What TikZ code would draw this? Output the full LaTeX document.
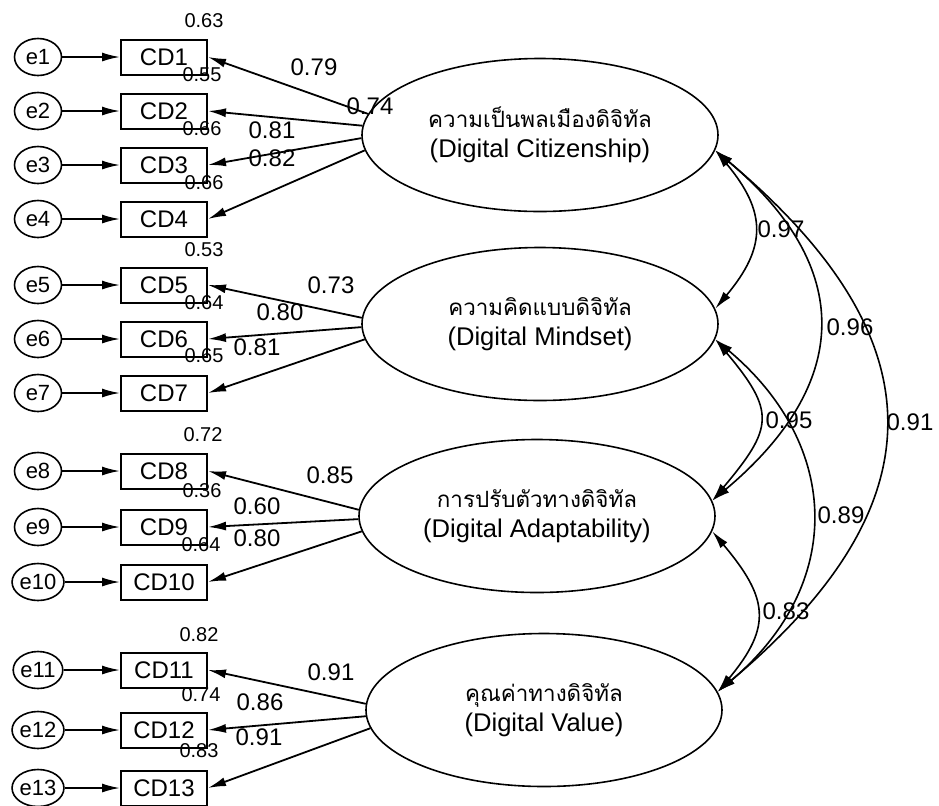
\documentclass[tikz,border=0pt]{standalone}
\usepackage{fontspec}
\setmainfont{Liberation Sans}
\newfontfamily\thaifont[Script=Thai]{Loma}
\usetikzlibrary{shapes,arrows.meta,positioning}
\tikzstyle{obs}=[draw,rectangle,line width=1pt,minimum width=43pt,
  minimum height=17.5pt,inner sep=0pt,font=\fontsize{12}{14}\selectfont]
\tikzstyle{err}=[draw,ellipse,line width=.8pt,minimum width=23.5pt,
  minimum height=18.5pt,inner sep=0pt,font=\fontsize{11}{13}\selectfont]
\tikzstyle{lat}=[draw,ellipse,line width=.8pt,minimum width=178pt,
  minimum height=76.5pt,inner sep=0pt,align=center,
  font=\fontsize{12.8}{15}\selectfont]
\tikzstyle{load}=[inner sep=0pt,font=\fontsize{12}{14}\selectfont]
\tikzstyle{rsq}=[inner sep=0pt,font=\fontsize{10}{12}\selectfont]
\tikzstyle{corr}=[<->,line width=.8pt]
\newcommand{\thainame}[1]{{\thaifont\fontsize{11.2}{15}\selectfont #1}}

\begin{document}
\begin{tikzpicture}[x=.5pt, y=-.5pt, >={Latex[length=9pt,width=4.5pt]},
    node distance=27pt, on grid, line width=.9pt]
  \useasboundingbox (0,0) rectangle (939,805);

  % factors
  \node[lat] (f1) at (540,135) {\thainame{ความเป็นพลเมืองดิจิทัล}\\(Digital Citizenship)};
  \node[lat] (f2) at (540,324) {\thainame{ความคิดแบบดิจิทัล}\\(Digital Mindset)};
  \node[lat] (f3) at (537,516) {\thainame{การปรับตัวทางดิจิทัล}\\(Digital Adaptability)};
  \node[lat] (f4) at (544,710) {\thainame{คุณค่าทางดิจิทัล}\\(Digital Value)};

  % indicators
  \node[obs] (cd1) at (164,57) {CD1};
  \node[obs, below=of cd1] (cd2) {CD2};
  \node[obs, below=of cd2] (cd3) {CD3};
  \node[obs, below=of cd3] (cd4) {CD4};
  \node[obs, below=33pt of cd4] (cd5) {CD5};
  \node[obs, below=of cd5] (cd6) {CD6};
  \node[obs, below=of cd6] (cd7) {CD7};
  \node[obs, below=39pt of cd7] (cd8) {CD8};
  \node[obs, below=28pt of cd8] (cd9) {CD9};
  \node[obs, below=27.5pt of cd9] (cd10) {CD10};
  \node[obs, below=44pt of cd10] (cd11) {CD11};
  \node[obs, below=30pt of cd11] (cd12) {CD12};
  \node[obs, below=29pt of cd12] (cd13) {CD13};

  % errors
  \node[err, left=63pt of cd1] (e1) {e1};
  \node[err, left=63pt of cd2] (e2) {e2};
  \node[err, left=63pt of cd3] (e3) {e3};
  \node[err, left=63pt of cd4] (e4) {e4};
  \node[err, left=63pt of cd5] (e5) {e5};
  \node[err, left=63pt of cd6] (e6) {e6};
  \node[err, left=63pt of cd7] (e7) {e7};
  \node[err, left=63pt of cd8] (e8) {e8};
  \node[err, left=63pt of cd9] (e9) {e9};
  \node[err, left=63pt of cd10] (e10) {e10};
  \node[err, left=63pt of cd11] (e11) {e11};
  \node[err, left=63pt of cd12] (e12) {e12};
  \node[err, left=63pt of cd13] (e13) {e13};

  \draw[->] (e1) -- (cd1);
  \draw[->] (e2) -- (cd2);
  \draw[->] (e3) -- (cd3);
  \draw[->] (e4) -- (cd4);
  \draw[->] (e5) -- (cd5);
  \draw[->] (e6) -- (cd6);
  \draw[->] (e7) -- (cd7);
  \draw[->] (e8) -- (cd8);
  \draw[->] (e9) -- (cd9);
  \draw[->] (e10) -- (cd10);
  \draw[->] (e11) -- (cd11);
  \draw[->] (e12) -- (cd12);
  \draw[->] (e13) -- (cd13);

  % loadings
  \draw[->] (f1.173) -- (cd1.east);
  \draw[->] (f1.177) -- (cd2.east);
  \draw[->] (f1.181) -- (cd3.east);
  \draw[->] (f1.185) -- (cd4.east);
  \draw[->] (f2.178) -- (cd5.east);
  \draw[->] (f2.181) -- (cd6.east);
  \draw[->] (f2.185) -- (cd7.east);
  \draw[->] (f3.178) -- (cd8.east);
  \draw[->] (f3.181) -- (cd9.east);
  \draw[->] (f3.185) -- (cd10.east);
  \draw[->] (f4.178) -- (cd11.east);
  \draw[->] (f4.182) -- (cd12.east);
  \draw[->] (f4.186) -- (cd13.east);

  \node[load] (l1) at (314,67) {0.79};
  \node[load] (l2) at (370,106) {0.74};
  \node[load] (l3) at (272,130) {0.81};
  \node[load] (l4) at (272,158) {0.82};
  \node[load] (l5) at (331,285) {0.73};
  \node[load] (l6) at (280,312) {0.80};
  \node[load] (l7) at (257,347) {0.81};
  \node[load] (l8) at (330,475) {0.85};
  \node[load] (l9) at (257,506) {0.60};
  \node[load] (l10) at (257,538) {0.80};
  \node[load] (l11) at (331,672) {0.91};
  \node[load] (l12) at (260,702) {0.86};
  \node[load] (l13) at (259,737) {0.91};

  % squared multiple correlations
  \node[rsq] (r1) at ([xshift=-2pt,yshift=9pt]cd1.north east) {0.63};
  \node[rsq] (r2) at ([xshift=-3pt,yshift=9pt]cd2.north east) {0.55};
  \node[rsq] (r3) at ([xshift=-3pt,yshift=9pt]cd3.north east) {0.66};
  \node[rsq] (r4) at ([xshift=-2pt,yshift=9pt]cd4.north east) {0.66};
  \node[rsq] (r5) at ([xshift=-2pt,yshift=8.5pt]cd5.north east) {0.53};
  \node[rsq] (r6) at ([xshift=-2pt,yshift=9pt]cd6.north east) {0.64};
  \node[rsq] (r7) at ([xshift=-2pt,yshift=9.5pt]cd7.north east) {0.65};
  \node[rsq] (r8) at ([xshift=-2.5pt,yshift=9pt]cd8.north east) {0.72};
  \node[rsq] (r9) at ([xshift=-3pt,yshift=9pt]cd9.north east) {0.36};
  \node[rsq] (r10) at ([xshift=-3.5pt,yshift=9.5pt]cd10.north east) {0.64};
  \node[rsq] (r11) at ([xshift=-4.5pt,yshift=8.5pt]cd11.north east) {0.82};
  \node[rsq] (r12) at ([xshift=-3.5pt,yshift=8.5pt]cd12.north east) {0.74};
  \node[rsq] (r13) at ([xshift=-4.5pt,yshift=9.5pt]cd13.north east) {0.83};

  % correlations
  \draw[corr] (f1.-5) to[out=-50, in=50, looseness=1.3] (f2.5);
  \draw[corr] (f1.-5) to[out=-40, in=40, looseness=1.33] (f3.5);
  \draw[corr] (f1.-5) to[out=-40, in=40, looseness=1.38] (f4.6);
  \draw[corr] (f2.-5) to[out=-50, in=50, looseness=1.5] (f3.5);
  \draw[corr] (f2.-5) to[out=-40, in=40, looseness=1.2] (f4.6);
  \draw[corr] (f3.-5) to[out=-50, in=50, looseness=1.37] (f4.6);

  \node[load] (c1) at (781,229) {0.97};
  \node[load] (c2) at (850,327) {0.96};
  \node[load] (c3) at (910,422) {0.91};
  \node[load] (c4) at (789,420) {0.95};
  \node[load] (c5) at (841,515) {0.89};
  \node[load] (c6) at (786,611) {0.83};
\end{tikzpicture}
\end{document}
